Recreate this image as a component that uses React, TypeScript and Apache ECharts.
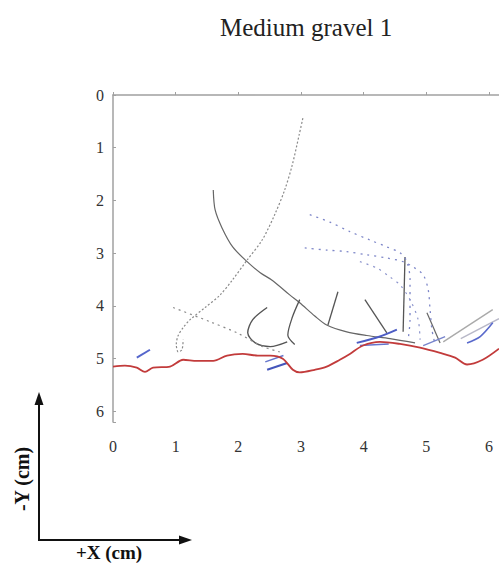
import React, { useEffect, useRef } from "react";
import * as echarts from "echarts";

const xTicks = [0, 1, 2, 3, 4, 5, 6];
const yTicks = [0, 1, 2, 3, 4, 5, 6];

// bed profile (red)
const bedProfile = [
  [0, 5.15], [0.19, 5.13], [0.38, 5.17], [0.51, 5.25], [0.64, 5.17], [0.91, 5.15],
  [1.12, 5.02], [1.34, 5.04], [1.6, 5.04], [1.82, 4.94], [2.07, 4.91], [2.31, 4.94],
  [2.51, 4.94], [2.71, 5.0], [2.87, 5.21], [2.98, 5.26], [3.22, 5.21], [3.41, 5.15],
  [3.62, 5.02], [3.78, 4.91], [3.99, 4.75], [4.26, 4.68], [4.58, 4.72], [4.9, 4.79],
  [5.22, 4.89], [5.46, 4.98], [5.65, 5.11], [5.9, 5.02], [6.16, 4.81],
];

// gray trajectories
const arcDotted = [
  [3.03, 0.44], [2.97, 0.76], [2.86, 1.33], [2.74, 1.8], [2.58, 2.27], [2.38, 2.75],
  [2.14, 3.13], [1.91, 3.5], [1.71, 3.79], [1.47, 4.03], [1.23, 4.26], [1.12, 4.41],
  [1.04, 4.56], [1.01, 4.73], [1.04, 4.87], [1.1, 4.83], [1.12, 4.64],
];
const arcSolid = [
  [1.6, 1.8], [1.63, 2.18], [1.74, 2.52], [1.91, 2.88], [2.14, 3.16], [2.35, 3.37],
  [2.55, 3.52], [2.82, 3.79], [2.98, 3.94], [3.22, 4.19], [3.41, 4.36], [3.73, 4.49],
  [4.05, 4.56], [4.42, 4.62], [4.82, 4.7],
];
const hookA = [[2.46, 4.03], [2.23, 4.26], [2.15, 4.51], [2.27, 4.7], [2.51, 4.77], [2.78, 4.68]];
const hookB = [[2.98, 3.88], [2.86, 4.22], [2.79, 4.55], [2.9, 4.73]];
const spike1 = [[3.59, 3.73], [3.43, 4.36]];
const spike2 = [[4.02, 3.88], [4.37, 4.51]];
const spike3 = [[4.66, 3.07], [4.63, 4.49]];
const spike4 = [[5.01, 4.13], [5.22, 4.7]];
const lightRight1 = [[5.27, 4.68], [6.06, 4.07]];
const lightRight2 = [[5.55, 4.62], [6.16, 4.24]];
const grayDotted = [[0.96, 4.03], [1.55, 4.3], [1.98, 4.51], [2.39, 4.77], [2.66, 4.87]];

// blue dotted trajectories
const blueDot1 = [
  [3.14, 2.27], [3.46, 2.41], [3.78, 2.59], [4.1, 2.75], [4.37, 2.88], [4.58, 2.99],
  [4.69, 3.16], [4.74, 3.5], [4.74, 3.88], [4.74, 4.26], [4.71, 4.64],
];
const blueDot2 = [
  [3.06, 2.9], [3.41, 2.94], [3.73, 2.97], [4.05, 3.03], [4.37, 3.09], [4.63, 3.16],
  [4.79, 3.26], [4.95, 3.41], [5.03, 3.69], [5.06, 4.07], [5.09, 4.45], [5.14, 4.73],
];
const blueDot3 = [
  [3.94, 3.16], [4.21, 3.28], [4.42, 3.45], [4.58, 3.6], [4.74, 3.88], [4.87, 4.26], [4.9, 4.64],
];

// blue short segments near the bed
const blueSeg1 = [[0.38, 4.98], [0.59, 4.83]];
const blueSeg2 = [[2.46, 5.21], [2.78, 5.08]];
const blueSeg3 = [[2.43, 5.06], [2.72, 4.94]];
const blueSeg4 = [[3.89, 4.7], [4.26, 4.58], [4.53, 4.45]];
const blueSeg5 = [[3.94, 4.75], [4.4, 4.72]];
const blueSeg6 = [[5.65, 4.7], [5.86, 4.58], [6.06, 4.32]];
const blueSeg7 = [[4.95, 4.75], [5.3, 4.58]];

const FONT = "Liberation Serif";

function line(data: number[][], color: string, width: number, type: any = "solid", z = 2) {
  return {
    type: "line",
    data,
    showSymbol: false,
    symbol: "none",
    smooth: 0.3,
    z,
    lineStyle: { color, width, type },
    silent: true,
  };
}

export default function App() {
  const ref = useRef<HTMLDivElement>(null);
  useEffect(() => {
    if (!ref.current) return;
    const chart = echarts.init(ref.current, undefined, { renderer: "svg" });
    const axisCommon = {
      axisLine: { show: true, lineStyle: { color: "#a0a0a0", width: 1.5 } },
      axisTick: { show: true, inside: true, length: 3, lineStyle: { color: "#a0a0a0" } },
      splitLine: { show: false },
      axisLabel: { fontFamily: FONT, fontSize: 16, color: "#333" },
    };
    chart.setOption({
      animation: false,
      backgroundColor: "#fff",
      title: {
        text: "Medium gravel 1",
        left: 215,
        top: 10,
        textStyle: { fontFamily: FONT, fontSize: 25, fontWeight: "normal", color: "#222" },
      },
      grid: { left: 113, top: 95, width: 386, height: 327 },
      xAxis: {
        type: "value",
        min: 0,
        max: 6.16,
        interval: 1,
        position: "bottom",
        ...axisCommon,
        axisLabel: {
          ...axisCommon.axisLabel,
          margin: 16,
          customValues: xTicks,
          formatter: (v: number) => String(v),
        },
      },
      yAxis: {
        type: "value",
        inverse: true,
        min: 0,
        max: 6.2,
        interval: 1,
        ...axisCommon,
        axisLabel: {
          ...axisCommon.axisLabel,
          margin: 9,
          customValues: yTicks,
          formatter: (v: number) => String(v),
        },
      },
      series: [
        line(arcDotted, "#8a8a8a", 1.2, [2, 2]),
        line(arcSolid, "#666", 1.2),
        line(hookA, "#555", 1.4),
        line(hookB, "#555", 1.3),
        line(spike1, "#555", 1.3),
        line(spike2, "#555", 1.3),
        line(spike3, "#555", 1.3),
        line(spike4, "#666", 1.2),
        line(lightRight1, "#aaa", 1.4),
        line(lightRight2, "#b8b8c8", 1.4),
        line(grayDotted, "#888", 1.2, [2, 4]),
        line(blueDot1, "#7d86c8", 1.3, [2, 5]),
        line(blueDot2, "#7d86c8", 1.3, [2, 5]),
        line(blueDot3, "#8c94cc", 1.2, [2, 5]),
        line(blueSeg1, "#5566cc", 2),
        line(blueSeg2, "#4455bb", 2),
        line(blueSeg3, "#6677cc", 1.5),
        line(blueSeg4, "#4c5cc4", 2),
        line(blueSeg5, "#6674cc", 1.5),
        line(blueSeg6, "#5a6acc", 1.6),
        line(blueSeg7, "#7784cc", 1.4),
        line(bedProfile, "#c23b3b", 1.8, "solid", 5),
      ],
      graphic: [
        { type: "line", shape: { x1: 39, y1: 540, x2: 39, y2: 402 }, style: { stroke: "#111", lineWidth: 2 } },
        { type: "polygon", shape: { points: [[39, 392], [34.5, 405], [43.5, 405]] }, style: { fill: "#111" } },
        { type: "line", shape: { x1: 38, y1: 540, x2: 182, y2: 540 }, style: { stroke: "#111", lineWidth: 2 } },
        { type: "polygon", shape: { points: [[192, 540], [179, 535.5], [179, 544.5]] }, style: { fill: "#111" } },
        {
          type: "text",
          x: 22,
          y: 479,
          rotation: Math.PI / 2,
          style: {
            text: "-Y (cm)",
            fontFamily: FONT,
            fontSize: 20,
            fontWeight: "bold",
            fill: "#111",
            align: "center",
            verticalAlign: "middle",
          },
        },
        {
          type: "text",
          x: 109,
          y: 552,
          style: {
            text: "+X (cm)",
            fontFamily: FONT,
            fontSize: 19,
            fontWeight: "bold",
            fill: "#111",
            align: "center",
            verticalAlign: "middle",
          },
        },
      ],
    });
    return () => chart.dispose();
  }, []);
  return (
    <div
      ref={ref}
      style={{ position: "fixed", left: 0, top: 0, width: 499, height: 564, background: "#fff" }}
    />
  );
}
